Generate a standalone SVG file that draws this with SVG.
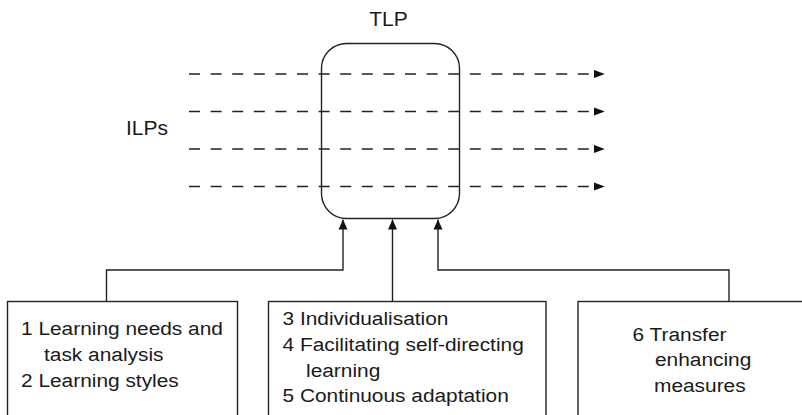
<svg xmlns="http://www.w3.org/2000/svg" width="802" height="415" viewBox="0 0 802 415">
  <defs>
    <style>
      .lbl { font-family: "Liberation Sans", Arial, Helvetica, sans-serif; fill: #1a1a1a; }
      .big { font-size: 21px; }
      .txt { font-size: 18px; }
      .box { fill: #fff; stroke: #222; stroke-width: 1.4; }
      .flow { fill: none; stroke: #222; stroke-width: 1.4; }
      .dash { fill: none; stroke: #222; stroke-width: 1.4; stroke-dasharray: 11 10.6; }
    </style>
    <marker id="head" viewBox="0 0 10 10" refX="10" refY="5" markerWidth="10" markerHeight="10" markerUnits="userSpaceOnUse" orient="auto">
      <path d="M0,0.5 L10,5 L0,9.5 Z" fill="#111"/>
    </marker>
    <!-- head placed beyond the line end so the dash pattern stays clean -->
    <marker id="headH" viewBox="0 0 12 10" refX="0" refY="5" markerWidth="12" markerHeight="9" markerUnits="userSpaceOnUse" orient="auto">
      <path d="M0,0.5 L12,5 L0,9.5 Z" fill="#111"/>
    </marker>
  </defs>

  <rect width="802" height="415" fill="#fff"/>

  <!-- central programme block -->
  <g id="tlp">
    <rect class="box" x="321.5" y="43.5" width="138" height="175" rx="25" ry="25" fill="none"/>
    <text class="lbl big" x="388.5" y="26" text-anchor="middle">TLP</text>
  </g>

  <g id="ilps">
    <text class="lbl big" x="126" y="135">ILPs</text>
  </g>

  <!-- source boxes (run below the frame) -->
  <g id="box-analysis">
    <rect class="box" x="7.5" y="301.5" width="230" height="140"/>
    <text class="lbl txt" transform="translate(21,335) scale(1.16,1)">1 Learning needs and</text>
    <text class="lbl txt" transform="translate(44,361) scale(1.16,1)">task analysis</text>
    <text class="lbl txt" transform="translate(21,387) scale(1.16,1)">2 Learning styles</text>
  </g>

  <g id="box-individual">
    <rect class="box" x="268.5" y="301.5" width="277.5" height="140"/>
    <text class="lbl txt" transform="translate(282.5,325) scale(1.16,1)">3 Individualisation</text>
    <text class="lbl txt" transform="translate(282.5,351) scale(1.16,1)">4 Facilitating self-directing</text>
    <text class="lbl txt" transform="translate(306,376.5) scale(1.16,1)">learning</text>
    <text class="lbl txt" transform="translate(282.5,402) scale(1.16,1)">5 Continuous adaptation</text>
  </g>

  <g id="box-transfer">
    <rect class="box" x="578" y="301.5" width="240" height="140"/>
    <text class="lbl txt" transform="translate(632.5,341) scale(1.16,1)">6 Transfer</text>
    <text class="lbl txt" transform="translate(655,366) scale(1.16,1)">enhancing</text>
    <text class="lbl txt" transform="translate(654,392) scale(1.16,1)">measures</text>
  </g>

  <!-- connectors -->
  <g id="connectors">
    <path class="dash" d="M189,74 H594" marker-end="url(#headH)"/>
    <path class="dash" d="M189,111.5 H594" marker-end="url(#headH)"/>
    <path class="dash" d="M189,149 H594" marker-end="url(#headH)"/>
    <path class="dash" d="M189,186.5 H594" marker-end="url(#headH)"/>

    <path class="flow" d="M106.5,301.5 V270 H343 V219.5" marker-end="url(#head)"/>
    <path class="flow" d="M392.5,301.5 V219.5" marker-end="url(#head)"/>
    <path class="flow" d="M729,301.5 V270 H438 V219.5" marker-end="url(#head)"/>
  </g>
</svg>
